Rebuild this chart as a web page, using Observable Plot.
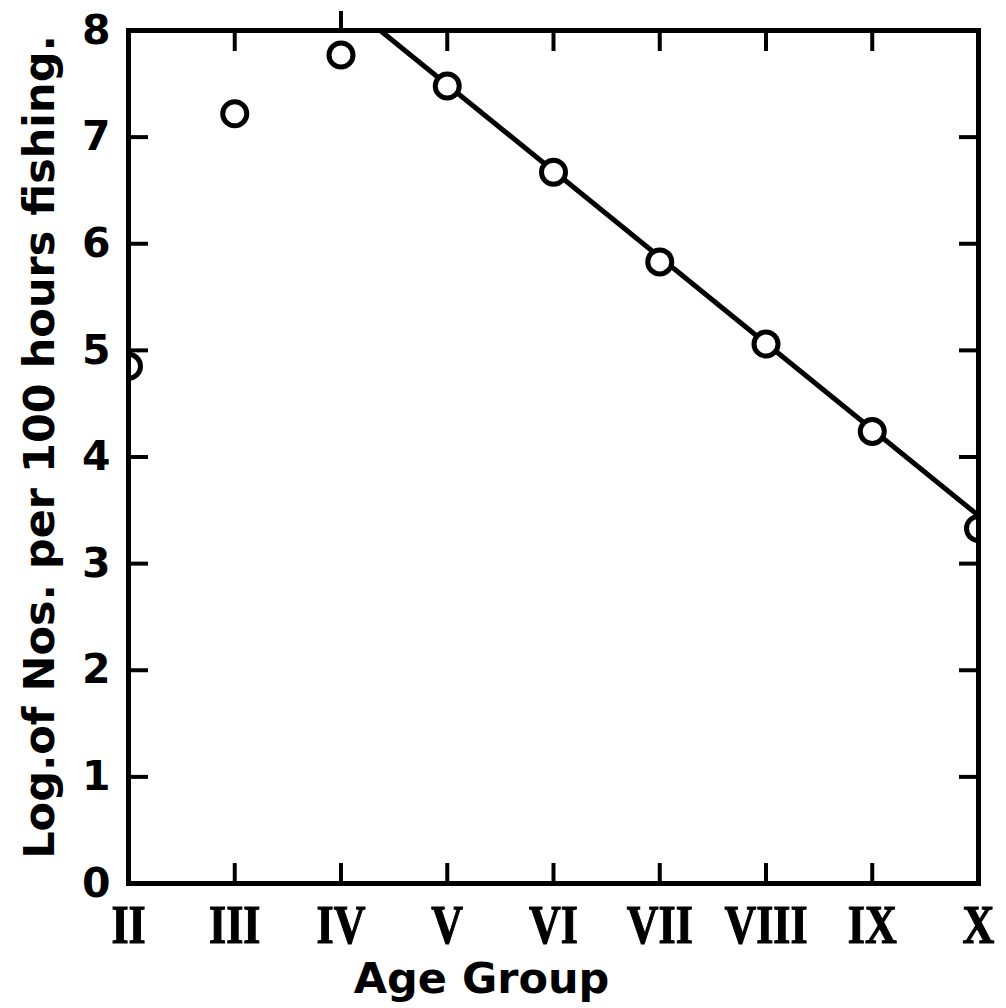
<!DOCTYPE html>
<html><head><meta charset="utf-8">
<script src="https://cdn.jsdelivr.net/npm/d3@7"></script>
<script src="https://cdn.jsdelivr.net/npm/@observablehq/plot@0.6"></script>
<style>body{margin:0;background:#fff}</style>
</head><body><div id="chart"></div>
<script>
const ageGroups = [2, 3, 4, 5, 6, 7, 8, 9, 10];
const ageLabels = ["II", "III", "IV", "V", "VI", "VII", "VIII", "IX", "X"];
const logCatch = [4.85, 7.22, 7.77, 7.48, 6.67, 5.83, 5.06, 4.24, 3.33];
const fitAge = [4.37, 10];
const fitLog = [8.0, 3.45];
const yTicks = [0, 1, 2, 3, 4, 5, 6, 7, 8];
const xTitle = "Age Group";
const yTitle = "Log.of Nos. per 100 hours fishing.";

const points = ageGroups.map((a, i) => ({age: a, log: logCatch[i]}));
const fit = fitAge.map((a, i) => ({age: a, log: fitLog[i]}));
const sans = "'DejaVu Sans', sans-serif";

const chart = Plot.plot({
  width: 1006, height: 1008,
  marginLeft: 128, marginRight: 28, marginTop: 30, marginBottom: 125,
  x: {domain: [2, 10]},
  y: {domain: [0, 8]},
  style: {background: "#fff", color: "#000"},
  marks: [
    Plot.line(fit, {x: "age", y: "log", stroke: "#000", strokeWidth: 5, clip: true}),
    Plot.dot(points, {x: "age", y: "log", r: 12, stroke: "#000", strokeWidth: 5, fill: "#fff", clip: true}),
    Plot.axisY({ticks: yTicks.slice(1, 8), anchor: "left", tickSize: -20, strokeWidth: 4, text: null, label: null}),
    Plot.axisY({ticks: yTicks.slice(1, 8), anchor: "right", tickSize: -20, strokeWidth: 4, text: null, label: null}),
    Plot.axisX({ticks: ageGroups.slice(1, 8), anchor: "bottom", tickSize: -20, strokeWidth: 4, text: null, label: null}),
    Plot.axisX({ticks: [3, 5, 6, 7, 8, 9], anchor: "top", tickSize: -20, strokeWidth: 4, text: null, label: null}),
    Plot.axisX({ticks: [4], anchor: "top", tickSize: 20, strokeWidth: 4, text: null, label: null}),
    Plot.axisY({ticks: yTicks, anchor: "left", tickSize: 0, tickPadding: 18, fontSize: 41, fontWeight: "bold", fontFamily: sans, label: null}),
    Plot.axisX({ticks: ageGroups, tickFormat: d => ageLabels[ageGroups.indexOf(d)], anchor: "bottom", tickSize: 0, tickPadding: 20, fontSize: 55, fontWeight: "bold", fontFamily: "'Liberation Serif', serif", label: null}),
    Plot.frame({stroke: "#000", strokeWidth: 5}),
    Plot.text([xTitle], {frameAnchor: "bottom", text: d => d, dx: -72, dy: 96, lineAnchor: "middle", fontSize: 43, fontWeight: "bold", fontFamily: sans}),
    Plot.text([yTitle], {frameAnchor: "left", text: d => d, textAnchor: "middle", rotate: -90, dx: -88, dy: -10, lineAnchor: "middle", fontSize: 43, fontWeight: "bold", fontFamily: sans})
  ]
});
d3.select(chart).selectAll("g[aria-label='x-axis tick label'] text").each(function() {
  const t = this.getAttribute("transform") || "";
  this.setAttribute("transform", t + " scale(0.8,1)");
  this.setAttribute("stroke", "#000");
  this.setAttribute("stroke-width", "1.2");
});
document.getElementById("chart").appendChild(chart);
</script>
</body></html>
